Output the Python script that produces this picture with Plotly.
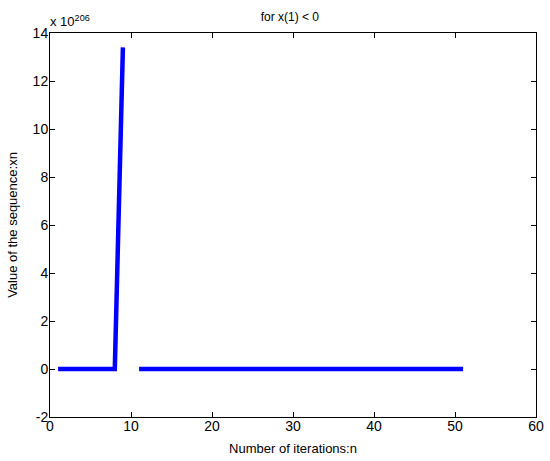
import plotly.graph_objects as go

# Data (values in units of 1e206); None = non-finite value (gap)
n_values = list(range(1, 52))
scale_exponent = 206
xn_values = [0, 0, 0, 0, 0, 0, 0, 0, 13.4, None] + [0] * 41

x_ticks = [0, 10, 20, 30, 40, 50, 60]
y_ticks = [-2, 0, 2, 4, 6, 8, 10, 12, 14]
y_tick_labels = ["-2", "0", "2", "4", "6", "8", "10", "12", "14"]

title_text = "for x(1) < 0"
x_label = "Number of iterations:n"
y_label = "Value of the sequence:xn"

font_family = "Liberation Sans, Arial, sans-serif"

fig = go.Figure()
fig.add_trace(go.Scatter(
    x=n_values, y=xn_values, mode="lines",
    line=dict(color="#0000FF", width=4.5),
    connectgaps=False, showlegend=False, hoverinfo="x+y",
))

axis_common = dict(
    showgrid=False, zeroline=False, showline=True, linecolor="black",
    linewidth=1, mirror="ticks", ticks="inside", ticklen=5, tickcolor="black",
    tickfont=dict(family=font_family, size=14, color="black"),
    automargin=False,
)

fig.update_layout(
    width=550, height=461,
    paper_bgcolor="white", plot_bgcolor="white",
    margin=dict(l=50, r=14, t=33, b=44, autoexpand=False),
    font=dict(family=font_family, color="black"),
    title=dict(text=title_text, xref="container", yref="container",
               x=0.527, xanchor="center", y=0.964, yanchor="middle",
               font=dict(family=font_family, size=12, color="black"),
               automargin=False),
    xaxis=dict(range=[0, 60], tickvals=x_ticks, ticklabelstandoff=-4,
               title=dict(text=x_label, font=dict(family=font_family, size=13), standoff=11),
               **axis_common),
    yaxis=dict(range=[-2, 14], tickvals=y_ticks, ticktext=y_tick_labels,
               ticklabelstandoff=-2,
               title=dict(text=y_label, font=dict(family=font_family, size=13), standoff=12),
               **axis_common),
    annotations=[dict(
        text="x 10<sup>%d</sup>" % scale_exponent, xref="paper", yref="paper",
        x=0, y=1, xanchor="left", yanchor="bottom", showarrow=False,
        yshift=2, xshift=-2,
        font=dict(family=font_family, size=13, color="black"),
    )],
)

fig.write_html("out.html", config={"displayModeBar": False},
               post_script="document.body.style.margin='0';")
